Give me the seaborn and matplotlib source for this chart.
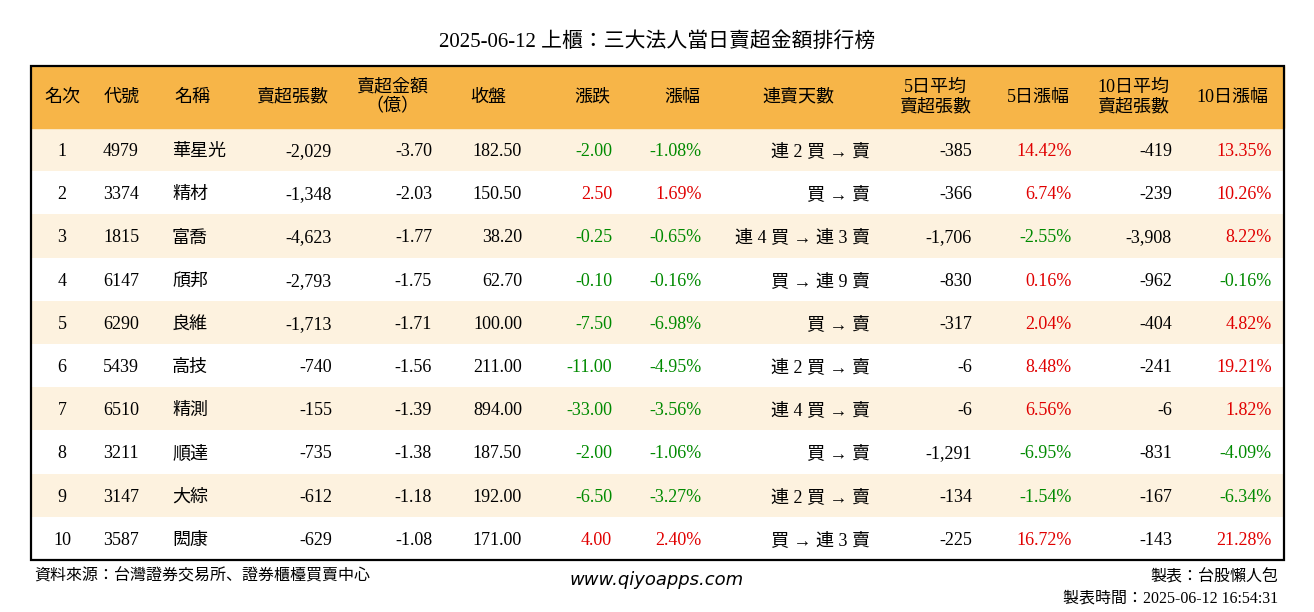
import numpy as np
import matplotlib.pyplot as plt
import seaborn as sns
from matplotlib import font_manager
from matplotlib.colors import ListedColormap
from matplotlib.patches import Rectangle

cjk = [f.name for f in font_manager.fontManager.ttflist if "CJK" in f.name]
cjk_name = "Noto Sans CJK TC" if "Noto Sans CJK TC" in cjk else (cjk[0] if cjk else "DejaVu Sans")
FAM = ["Liberation Serif", cjk_name]

# %% data
rank = [1, 2, 3, 4, 5, 6, 7, 8, 9, 10]
codes = ["4979", "3374", "1815", "6147", "6290", "5439", "6510", "3211", "3147", "3587"]
names = ["華星光", "精材", "富喬", "頎邦", "良維", "高技", "精測", "順達", "大綜", "閎康"]
net_sell = [-2029, -1348, -4623, -2793, -1713, -740, -155, -735, -612, -629]
amount = [-3.70, -2.03, -1.77, -1.75, -1.71, -1.56, -1.39, -1.38, -1.18, -1.08]
close = [182.50, 150.50, 38.20, 62.70, 100.00, 211.00, 894.00, 187.50, 192.00, 171.00]
change = [-2.00, 2.50, -0.25, -0.10, -7.50, -11.00, -33.00, -2.00, -6.50, 4.00]
pct = [-1.08, 1.69, -0.65, -0.16, -6.98, -4.95, -3.56, -1.06, -3.27, 2.40]
streak = ["連 2 買 → 賣", "買 → 賣", "連 4 買 → 連 3 賣", "買 → 連 9 賣", "買 → 賣",
          "連 2 買 → 賣", "連 4 買 → 賣", "買 → 賣", "連 2 買 → 賣", "買 → 連 3 賣"]
avg5 = [-385, -366, -1706, -830, -317, -6, -6, -1291, -134, -225]
pct5 = [14.42, 6.74, -2.55, 0.16, 2.04, 8.48, 6.56, -6.95, -1.54, 16.72]
avg10 = [-419, -239, -3908, -962, -404, -241, -6, -831, -167, -143]
pct10 = [13.35, 10.26, 8.22, -0.16, 4.82, 19.21, 1.82, -4.09, -6.34, 21.28]
headers = ["名次", "代號", "名稱", "賣超張數", "賣超金額\n（億）", "收盤", "漲跌", "漲幅",
           "連賣天數", "5日平均\n賣超張數", "5日漲幅", "10日平均\n賣超張數", "10日漲幅"]

W, H = 1314, 612
L, R, TOP, HB, BOT = 31, 1284, 66, 128, 560
RED, GREEN = "#e00000", "#008a00"

fig = plt.figure(figsize=(W / 100, H / 100), dpi=100)

# row striping via heatmap
hax = fig.add_axes([L / W, 1 - BOT / H, (R - L) / W, (BOT - HB) / H])
stripe = np.array([[i % 2] for i in range(10)])
sns.heatmap(stripe, ax=hax, cmap=ListedColormap(["#fdf2df", "#ffffff"]), cbar=False,
            xticklabels=False, yticklabels=False)

ax = fig.add_axes([0, 0, 1, 1])
ax.set_xlim(0, W)
ax.set_ylim(H, 0)
ax.axis("off")
ax.patch.set_alpha(0)

def txt(x, y, s, **kw):
    kw.setdefault("family", FAM)
    kw.setdefault("va", "center")
    ax.text(x, y, s, **kw)

ax.add_patch(Rectangle((L, TOP), R - L, HB - TOP, color="#f7b548", zorder=1))
ax.add_patch(Rectangle((L, TOP), R - L, BOT - TOP, fill=False, lw=1.6, ec="black", zorder=3))

txt(W / 2, 42, "2025-06-12 上櫃：三大法人當日賣超金額排行榜", ha="center", fontsize=15)

hx = [62, 122, 192, 292, 392, 488, 592, 682, 798, 935, 1038, 1133, 1232]
for x, h in zip(hx, headers):
    txt(x, (TOP + HB) / 2, h, ha="center", fontsize=13, linespacing=1.15)

FS = 13
def sign_color(v):
    return RED if v > 0 else GREEN

rh = (BOT - HB) / 10
for i in range(10):
    y = HB + rh * (i + 0.5) + 2
    txt(62, y, str(rank[i]), ha="center", fontsize=FS)
    txt(103, y, codes[i], ha="left", fontsize=FS)
    txt(172, y, names[i], ha="left", fontsize=FS)
    txt(332, y, f"{net_sell[i]:,}", ha="right", fontsize=FS)
    txt(432, y, f"{amount[i]:.2f}", ha="right", fontsize=FS)
    txt(522, y, f"{close[i]:.2f}", ha="right", fontsize=FS)
    txt(612, y, f"{change[i]:.2f}", ha="right", fontsize=FS, color=sign_color(change[i]))
    txt(702, y, f"{pct[i]:.2f}%", ha="right", fontsize=FS, color=sign_color(pct[i]))
    txt(870, y, streak[i], ha="right", fontsize=FS)
    txt(972, y, f"{avg5[i]:,}", ha="right", fontsize=FS)
    txt(1072, y, f"{pct5[i]:.2f}%", ha="right", fontsize=FS, color=sign_color(pct5[i]))
    txt(1172, y, f"{avg10[i]:,}", ha="right", fontsize=FS)
    txt(1272, y, f"{pct10[i]:.2f}%", ha="right", fontsize=FS, color=sign_color(pct10[i]))

txt(34, 577, "資料來源：台灣證券交易所、證券櫃檯買賣中心", ha="left", fontsize=11.5)
txt(657, 580, "www.qiyoapps.com", ha="center", fontsize=13, family="DejaVu Sans", style="italic")
txt(1278, 577, "製表：台股懶人包", ha="right", fontsize=11.5)
txt(1278, 598, "製表時間：2025-06-12 16:54:31", ha="right", fontsize=11.5)

fig.savefig("out.png", dpi=100, facecolor="white")
